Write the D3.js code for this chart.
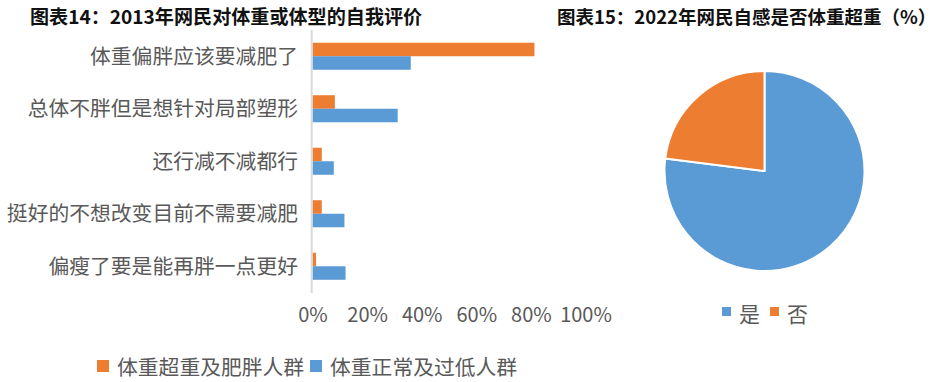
<!DOCTYPE html>
<html>
<head>
<meta charset="utf-8">
<script src="https://cdn.jsdelivr.net/npm/d3@7"></script>
<style>
  html, body { margin: 0; padding: 0; background: #fff; }
  svg { display: block; }
  text { font-family: "Noto Sans CJK SC", "Noto Sans", sans-serif; }
</style>
</head>
<body>
<svg id="chart" width="941" height="382"></svg>
<script>
// ---- data ----
const categories = ["体重偏胖应该要减肥了", "总体不胖但是想针对局部塑形", "还行减不减都行", "挺好的不想改变目前不需要减肥", "偏瘦了要是能再胖一点更好"];
const seriesNames = ["体重超重及肥胖人群", "体重正常及过低人群"];
const overweightValues = [0.813, 0.082, 0.034, 0.034, 0.013];
const normalValues = [0.36, 0.312, 0.078, 0.117, 0.121];
const xTicks = [0, 0.2, 0.4, 0.6, 0.8, 1.0];
const pieLabels = ["是", "否"];
const pieValues = [77, 23];
const title1 = "图表14：2013年网民对体重或体型的自我评价";
const title2 = "图表15：2022年网民自感是否体重超重（%）";

const colors = ["#ED7D31", "#5B9BD5"];
const textColor = "#595959";

const svg = d3.select("#chart");

// ---- titles ----
svg.append("text").attr("x", 30).attr("y", 16).attr("dominant-baseline", "central")
  .attr("font-size", 19.1).attr("font-weight", "bold").attr("fill", "#111").text(title1);
svg.append("text").attr("x", 557).attr("y", 16).attr("dominant-baseline", "central")
  .attr("font-size", 18.5).attr("font-weight", "bold").attr("fill", "#111").text(title2);

// ---- bar chart ----
const x = d3.scaleLinear().domain([0, 1]).range([312.5, 585.5]);
const y = d3.scaleBand().domain(categories).range([30, 292.5]).paddingInner(0.485).paddingOuter(0.2425);
const sub = d3.scaleBand().domain([0, 1]).range([0, y.bandwidth()]);

const bars = svg.append("g");
categories.forEach((c, i) => {
  const vals = [overweightValues[i], normalValues[i]];
  vals.forEach((v, k) => {
    bars.append("rect")
      .attr("x", x(0))
      .attr("y", y(c) + sub(k))
      .attr("width", x(v) - x(0))
      .attr("height", sub.bandwidth())
      .attr("fill", colors[k]);
  });
});

// axis line (category axis)
svg.append("line").attr("x1", x(0) - 0.8).attr("x2", x(0) - 0.8).attr("y1", 30).attr("y2", 293)
  .attr("stroke", "#d9d9d9").attr("stroke-width", 2);

// category labels
const yAxis = svg.append("g").attr("transform", `translate(${x(0) - 14.5},0)`)
  .call(d3.axisLeft(y).tickSize(0).tickPadding(0));
yAxis.select(".domain").remove();
yAxis.selectAll("text").attr("font-size", 20.8).attr("fill", textColor)
  .attr("font-family", "'Noto Sans CJK SC', sans-serif").attr("dy", "0.35em");

// x tick labels
const xAxis = svg.append("g").attr("transform", "translate(0,308)")
  .call(d3.axisBottom(x).tickValues(xTicks).tickFormat(d3.format(".0%")).tickSize(0).tickPadding(0));
xAxis.select(".domain").remove();
xAxis.selectAll("text").attr("font-size", 20).attr("fill", textColor)
  .attr("font-family", "'Noto Sans CJK SC', sans-serif").attr("dy", "0.71em");

// bar legend
const leg1 = svg.append("g");
const legX = [97, 310];
seriesNames.forEach((n, k) => {
  leg1.append("rect").attr("x", legX[k]).attr("y", 360).attr("width", 12).attr("height", 12).attr("fill", colors[k]);
  leg1.append("text").attr("x", legX[k] + 20).attr("y", 366).attr("dominant-baseline", "central")
    .attr("font-size", 20.8).attr("fill", textColor).text(n);
});

// ---- pie ----
const pieColors = ["#5B9BD5", "#ED7D31"];
const pie = d3.pie().sort(null).value(d => d)(pieValues);
const arc = d3.arc().innerRadius(0).outerRadius(100);
svg.append("g").attr("transform", "translate(764.5,171)")
  .selectAll("path").data(pie).join("path")
  .attr("d", arc).attr("fill", (d, i) => pieColors[i])
  .attr("stroke", "#fff").attr("stroke-width", 2).attr("stroke-linejoin", "round");

// pie legend
const leg2 = svg.append("g");
const leg2X = [722, 770];
pieLabels.forEach((n, k) => {
  leg2.append("rect").attr("x", leg2X[k]).attr("y", 307).attr("width", 9).attr("height", 9).attr("fill", pieColors[k]);
  leg2.append("text").attr("x", leg2X[k] + 17).attr("y", 313).attr("dominant-baseline", "central")
    .attr("font-size", 21).attr("fill", textColor).text(n);
});
</script>
</body>
</html>
